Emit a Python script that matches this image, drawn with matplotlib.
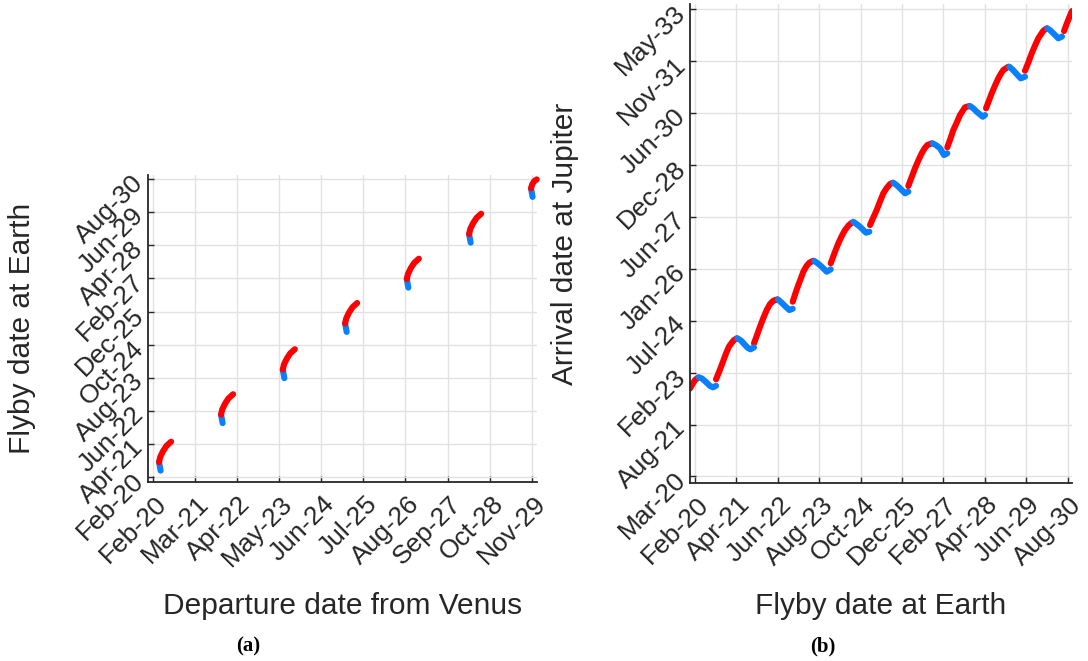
import numpy as np
import pandas as pd
import matplotlib
matplotlib.use('Agg')
import matplotlib.pyplot as plt
import matplotlib.dates as mdates
import matplotlib.transforms as mtransforms
from matplotlib import rcParams

rcParams['font.family'] = ['Liberation Sans', 'DejaVu Sans']

nan = np.nan

## (a) departure from Venus vs flyby at Earth (decimal years, NaN breaks the windows)
dep_red = [2020.285, 2020.315, 2020.385, 2020.475, 2020.595, nan,
           2021.880, 2021.910, 2021.980, 2022.070, 2022.190, nan,
           2023.468, 2023.498, 2023.568, 2023.658, 2023.778, nan,
           2025.071, 2025.101, 2025.171, 2025.261, 2025.381, nan,
           2026.658, 2026.688, 2026.758, 2026.848, 2026.968, nan,
           2028.261, 2028.291, 2028.361, 2028.451, 2028.571, nan,
           2029.854, 2029.884, 2029.940, 2030.000]
fly_red = [2020.642, 2020.822, 2021.022, 2021.212, 2021.362, nan,
           2022.317, 2022.497, 2022.697, 2022.887, 2023.037, nan,
           2023.905, 2024.085, 2024.285, 2024.475, 2024.625, nan,
           2025.535, 2025.715, 2025.915, 2026.105, 2026.255, nan,
           2027.098, 2027.278, 2027.478, 2027.668, 2027.818, nan,
           2028.685, 2028.865, 2029.065, 2029.255, 2029.405, nan,
           2030.298, 2030.440, 2030.560, 2030.615]
dep_blue = [2020.325, 2020.305, 2020.285, nan,
            2021.920, 2021.900, 2021.880, nan,
            2023.508, 2023.488, 2023.468, nan,
            2025.111, 2025.091, 2025.071, nan,
            2026.698, 2026.678, 2026.658, nan,
            2028.301, 2028.281, 2028.261, nan,
            2029.894, 2029.874, 2029.854]
fly_blue = [2020.342, 2020.492, 2020.642, nan,
            2022.017, 2022.167, 2022.317, nan,
            2023.605, 2023.755, 2023.905, nan,
            2025.235, 2025.385, 2025.535, nan,
            2026.798, 2026.948, 2027.098, nan,
            2028.385, 2028.535, 2028.685, nan,
            2029.998, 2030.148, 2030.298]

## (b) flyby at Earth vs arrival at Jupiter
earth_red = [2019.982, 2020.053, 2020.123, 2020.216, nan,
             2020.715, 2020.799, 2020.875, 2020.954, 2021.016, 2021.081, 2021.157, 2021.222, 2021.298, nan,
             2021.785, 2021.870, 2021.954, 2022.047, 2022.143, 2022.236, 2022.329, 2022.441, nan,
             2022.875, 2022.954, 2023.033, 2023.109, 2023.174, 2023.264, 2023.343, 2023.455, nan,
             2023.946, 2024.053, 2024.160, 2024.256, 2024.349, 2024.447, 2024.537, nan,
             2025.053, 2025.146, 2025.241, 2025.334, 2025.427, 2025.523, 2025.616, 2025.692, nan,
             2026.132, 2026.227, 2026.320, 2026.413, 2026.509, 2026.588, 2026.667, 2026.791, nan,
             2027.230, 2027.320, 2027.399, 2027.504, 2027.588, 2027.729, 2027.850, nan,
             2028.321, 2028.405, 2028.481, 2028.574, 2028.667, 2028.743, 2028.808, 2028.949, nan,
             2029.419, 2029.518, 2029.608, 2029.701, 2029.794, 2029.935, 2030.031, nan,
             2030.518, 2030.602, 2030.687, 2030.743]
jup_red = [2022.648, 2022.775, 2022.888, 2022.959, nan,
           2022.908, 2023.114, 2023.312, 2023.524, 2023.687, 2023.834, 2023.941, 2024.018, 2024.066, nan,
           2023.924, 2024.159, 2024.393, 2024.639, 2024.864, 2025.034, 2025.127, 2025.166, nan,
           2025.099, 2025.344, 2025.570, 2025.768, 2025.946, 2026.107, 2026.200, 2026.256, nan,
           2026.183, 2026.474, 2026.747, 2026.953, 2027.123, 2027.250, 2027.329, nan,
           2027.264, 2027.476, 2027.687, 2027.927, 2028.159, 2028.309, 2028.421, 2028.458, nan,
           2028.365, 2028.619, 2028.865, 2029.085, 2029.288, 2029.424, 2029.522, 2029.570, nan,
           2029.457, 2029.706, 2029.946, 2030.172, 2030.369, 2030.587, 2030.623, nan,
           2030.558, 2030.779, 2030.982, 2031.202, 2031.405, 2031.541, 2031.640, 2031.733, nan,
           2031.620, 2031.865, 2032.111, 2032.331, 2032.535, 2032.749, 2032.817, nan,
           2032.741, 2032.967, 2033.178, 2033.305]
earth_blue = [2020.227, 2020.320, 2020.433, 2020.546, 2020.630, 2020.715, nan,
              2021.315, 2021.419, 2021.532, 2021.616, 2021.686, 2021.785, nan,
              2022.461, 2022.560, 2022.658, 2022.780, 2022.875, nan,
              2023.484, 2023.588, 2023.692, 2023.833, 2023.946, nan,
              2024.582, 2024.673, 2024.771, 2024.940, 2025.033, nan,
              2025.709, 2025.799, 2025.898, 2026.039, 2026.132, nan,
              2026.819, 2026.920, 2027.025, 2027.137, 2027.230, nan,
              2027.870, 2027.968, 2028.059, 2028.228, 2028.293, nan,
              2028.977, 2029.067, 2029.166, 2029.298, 2029.419, nan,
              2030.048, 2030.138, 2030.216, 2030.357, 2030.461]
jup_blue = [2022.965, 2022.931, 2022.832, 2022.719, 2022.682, 2022.725, nan,
            2024.066, 2024.003, 2023.876, 2023.792, 2023.755, 2023.811, nan,
            2025.161, 2025.076, 2024.977, 2024.864, 2024.901, nan,
            2026.248, 2026.177, 2026.087, 2025.946, 2026.013, nan,
            2027.357, 2027.292, 2027.216, 2027.047, 2027.075, nan,
            2028.458, 2028.393, 2028.300, 2028.159, 2028.204, nan,
            2029.570, 2029.514, 2029.429, 2029.240, 2029.288, nan,
            2030.623, 2030.553, 2030.462, 2030.321, 2030.369, nan,
            2031.733, 2031.654, 2031.547, 2031.405, 2031.451, nan,
            2032.817, 2032.755, 2032.676, 2032.535, 2032.585]

# axis limits and first/last tick dates
lim_dep = [2020.0, 2030.0]
lim_fly = [2019.94, 2030.77]
lim_earth = [2019.982, 2030.743]
lim_jup = [2019.989, 2033.503]
ticks_dep = ('2020-02-15', '2029-11-15')
ticks_fly = ('2020-02-15', '2030-08-15')
ticks_jup = ('2020-03-02', '2033-05-10')

RED = '#ff0000'
BLUE = '#0a80ff'
TXT = '#262626'

BASE = mdates.date2num(pd.Timestamp('2020-01-01').to_pydatetime())


def to_num(yrs):
    # decimal year -> matplotlib date number
    return BASE + (np.asarray(yrs, dtype=float) - 2020.0) * 365.25


def date_ticks(span):
    return mdates.date2num(pd.date_range(span[0], span[1], periods=10).to_pydatetime())


def style_axes(ax, xspan, yspan, xlim, ylim):
    ax.set_xlim(to_num(xlim))
    ax.set_ylim(to_num(ylim))
    ax.set_xticks(date_ticks(xspan))
    ax.set_yticks(date_ticks(yspan))
    fmt = mdates.DateFormatter('%b-%y')
    ax.xaxis.set_major_formatter(fmt)
    ax.yaxis.set_major_formatter(fmt)
    ax.grid(True, color='#e2e2e2', linewidth=1.0)
    ax.set_axisbelow(True)
    for s in ['top', 'right']:
        ax.spines[s].set_visible(False)
    for s in ['left', 'bottom']:
        ax.spines[s].set_color(TXT)
        ax.spines[s].set_linewidth(1.3)
    ax.tick_params(direction='in', length=4, width=1, colors=TXT, labelsize=19, pad=6)
    # rotated labels, pushed a little down-right like the original tool does
    shift = mtransforms.ScaledTranslation(0.10, -0.10, fig.dpi_scale_trans)
    for lab in ax.get_xticklabels():
        lab.set_rotation(45)
        lab.set_ha('right')
        lab.set_va('center')
        lab.set_rotation_mode('anchor')
        lab.set_transform(lab.get_transform() + shift)
    for lab in ax.get_yticklabels():
        lab.set_rotation(45)
        lab.set_ha('right')
        lab.set_va('center')
        lab.set_rotation_mode('anchor')


fig = plt.figure(figsize=(10.88, 6.61), dpi=100)
ax1 = fig.add_axes([0.1360, 0.2708, 0.3573, 0.4644])
ax2 = fig.add_axes([0.6342, 0.2697, 0.3511, 0.7242])

lw = 4.4
ax1.plot(to_num(dep_blue), to_num(fly_blue), color=BLUE, lw=lw, solid_capstyle='round', clip_on=False)
ax1.plot(to_num(dep_red), to_num(fly_red), color=RED, lw=lw, solid_capstyle='round', clip_on=False)
style_axes(ax1, ticks_dep, ticks_fly, lim_dep, lim_fly)
ax1.set_xlabel('Departure date from Venus', fontsize=21.5, color=TXT)
ax1.set_ylabel('Flyby date at Earth', fontsize=21.5, color=TXT)
ax1.xaxis.set_label_coords(0.5, -0.404)
ax1.yaxis.set_label_coords(-0.324, 0.5)
ax1.xaxis.label.set_va('center')
ax1.yaxis.label.set_va('center')

ax2.plot(to_num(earth_red), to_num(jup_red), color=RED, lw=lw, solid_capstyle='round')
ax2.plot(to_num(earth_blue), to_num(jup_blue), color=BLUE, lw=lw, solid_capstyle='round')
style_axes(ax2, ticks_fly, ticks_jup, lim_earth, lim_jup)
ax2.set_xlabel('Flyby date at Earth', fontsize=21.5, color=TXT)
ax2.set_ylabel('Arrival date at Jupiter', fontsize=21.5, color=TXT)
ax2.xaxis.set_label_coords(0.5, -0.258)
ax2.yaxis.set_label_coords(-0.327, 0.5)
ax2.xaxis.label.set_va('center')
ax2.yaxis.label.set_va('center')

fig.text(248 / 1088, 1 - 646 / 661, '(a)', fontsize=15, fontweight='bold',
         family='Liberation Serif', ha='center', va='center')
fig.text(823 / 1088, 1 - 646 / 661, '(b)', fontsize=15, fontweight='bold',
         family='Liberation Serif', ha='center', va='center')

fig.savefig('out.png', dpi=100)
